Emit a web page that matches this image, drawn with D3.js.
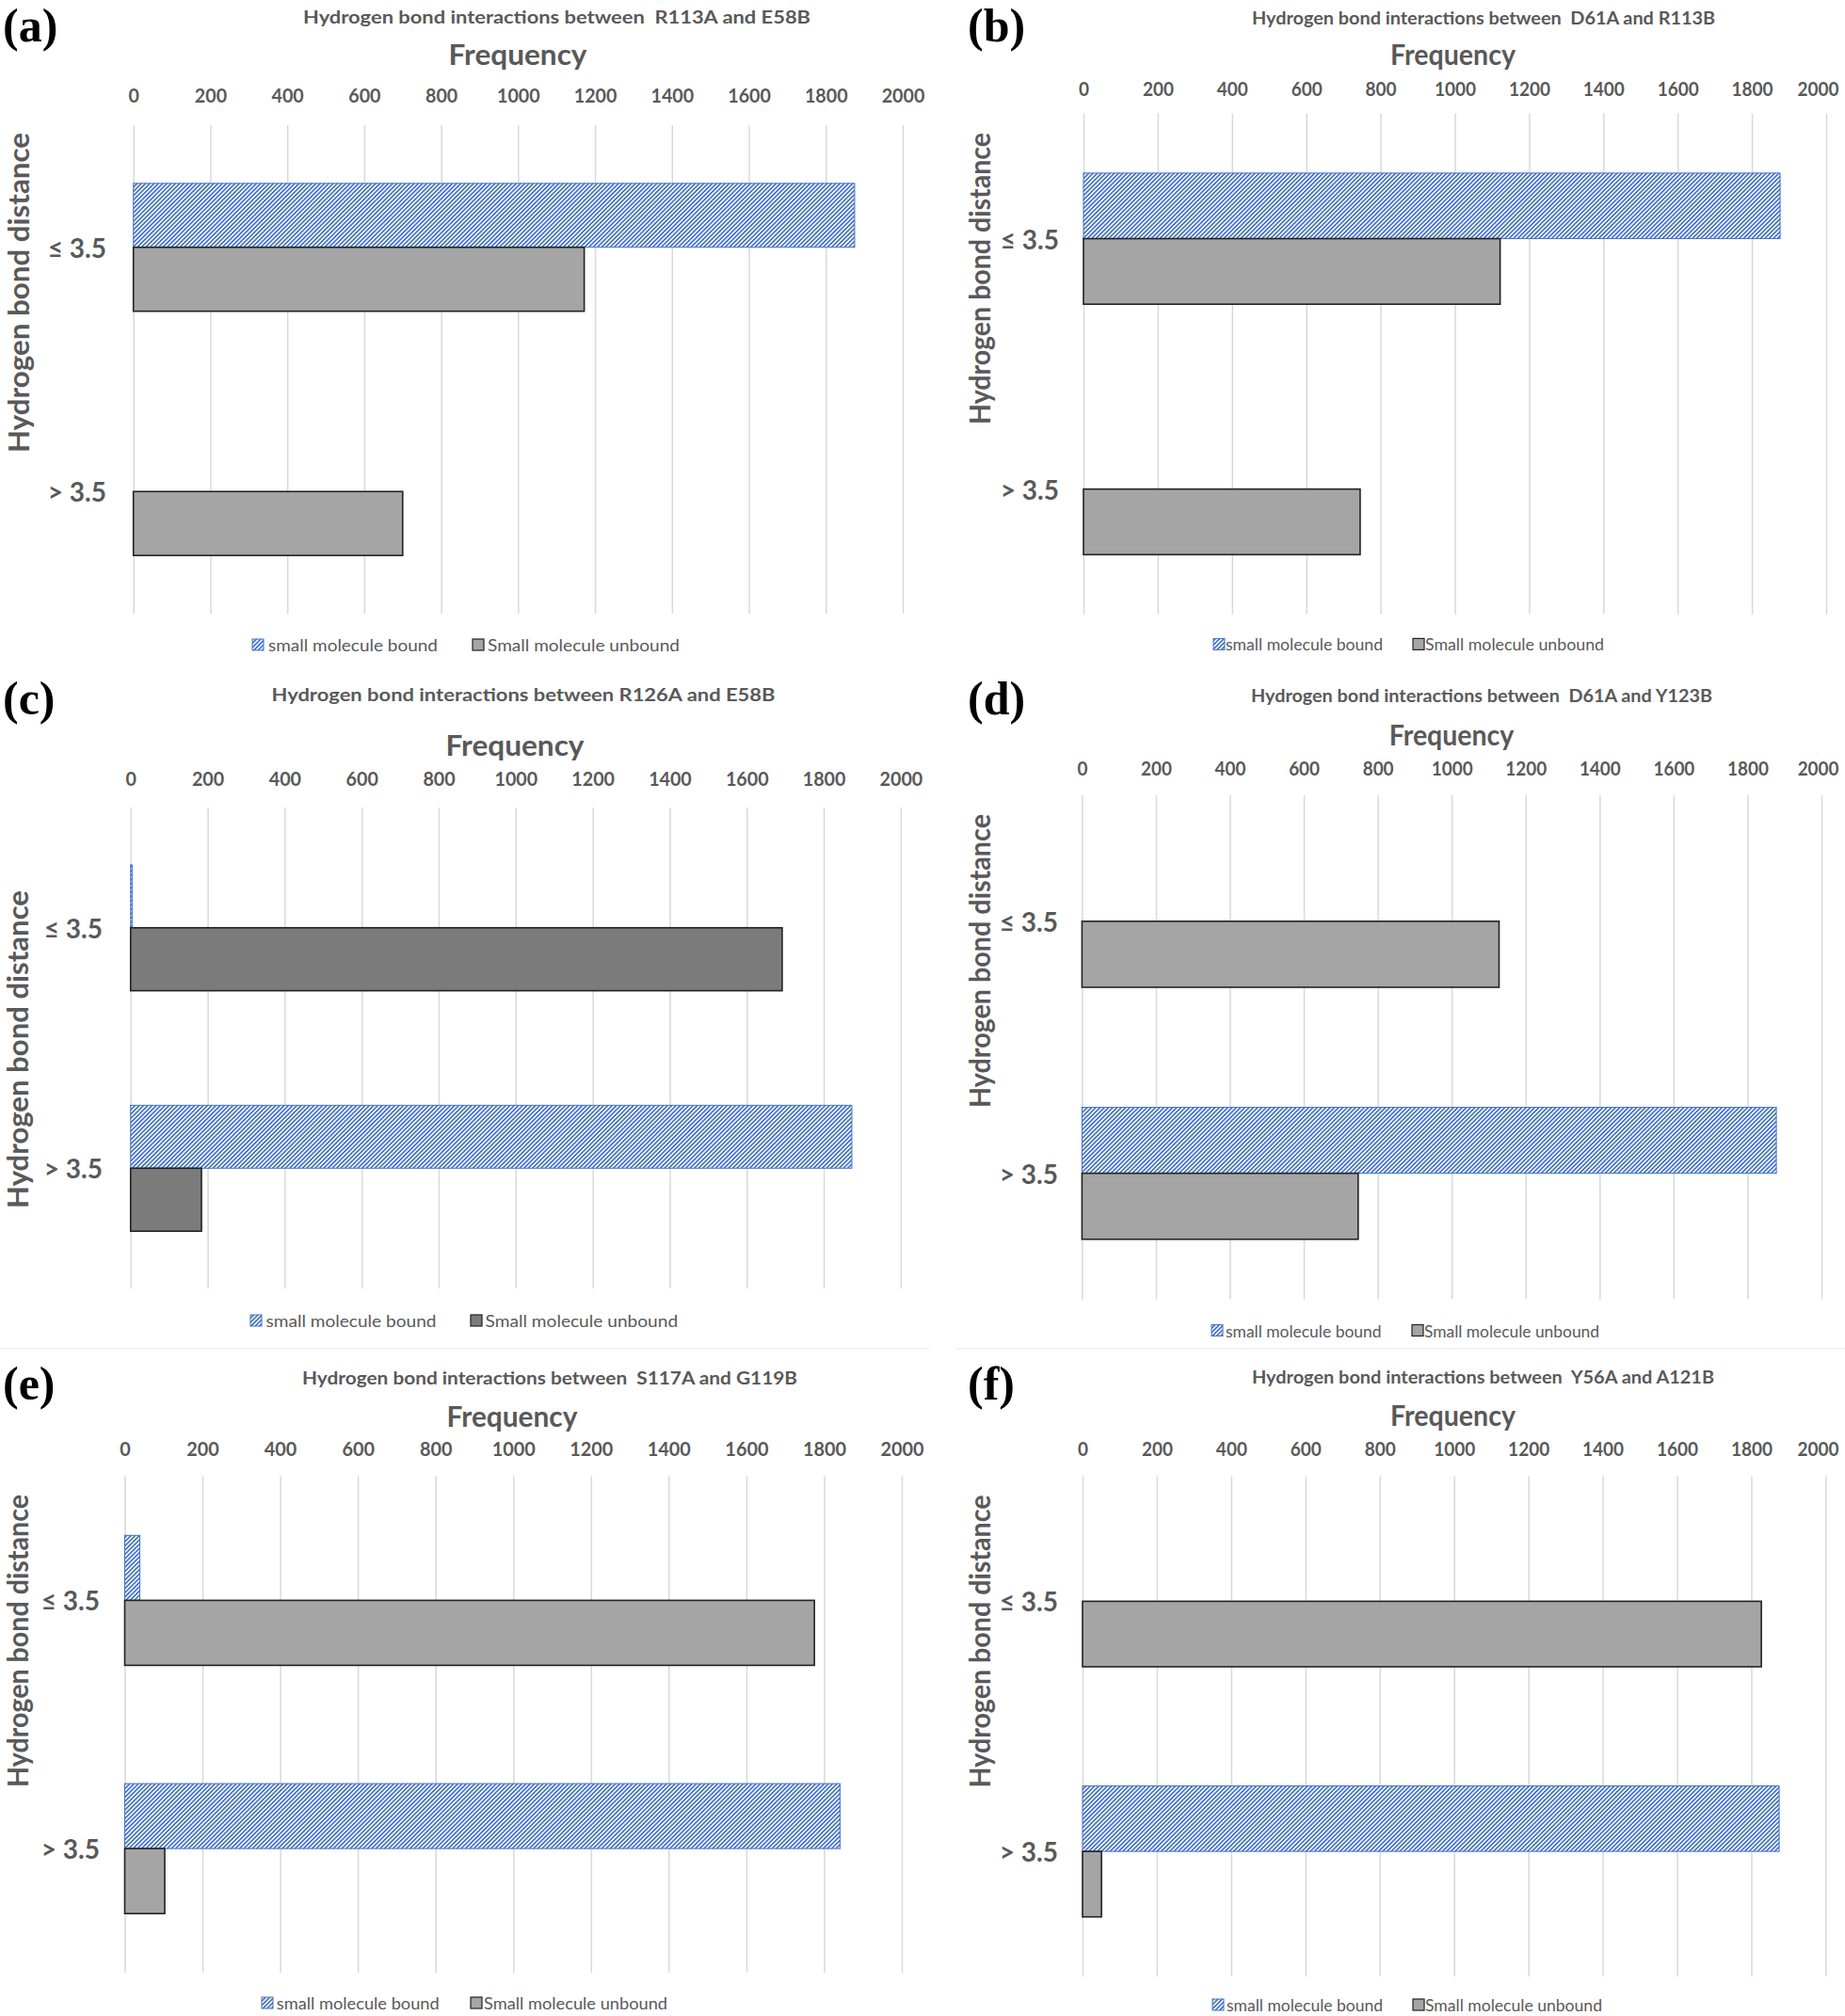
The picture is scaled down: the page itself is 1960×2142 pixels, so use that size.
<!DOCTYPE html>
<html><head><meta charset="utf-8">
<script src="https://cdn.jsdelivr.net/npm/d3@7"></script>
<style>body{margin:0;background:#fff} svg{display:block} text{white-space:pre}</style>
</head><body>
<svg id="chart" width="1960" height="2142"></svg>
<script>
// ---------------- data ----------------
const categories = ["≤ 3.5", "> 3.5"];
const seriesNames = ["small molecule bound", "Small molecule unbound"];
const panelLabels = ["(a)", "(b)", "(c)", "(d)", "(e)", "(f)"];
const panelTitles = [
  "Hydrogen bond interactions between  R113A and E58B",
  "Hydrogen bond interactions between  D61A and R113B",
  "Hydrogen bond interactions between R126A and E58B",
  "Hydrogen bond interactions between  D61A and Y123B",
  "Hydrogen bond interactions between  S117A and G119B",
  "Hydrogen bond interactions between  Y56A and A121B"
];
// values per panel, in category order [≤ 3.5, > 3.5]
const boundValues   = [[1875, 0], [1876, 0], [4, 1873], [0, 1878], [39, 1841], [0, 1875]];
const unboundValues = [[1172, 700], [1122, 745], [1692, 184], [1128, 747], [1775, 103], [1827, 51]];
const xTicks = [0, 200, 400, 600, 800, 1000, 1200, 1400, 1600, 1800, 2000];
const xAxisTitle = "Frequency";
const yAxisTitle = "Hydrogen bond distance";

// ---------------- layout (positions/styles only) ----------------
const layout = [
  {x0:141.7, x1:959, top:133, bottom:652, titleX:591.5, titleY:17, titleW:539, freqX:550, freqY:57, freqW:147, tickY:101.7,
   ytX:18.5, ytY:311, ytL:340, catRight:113, labelX:3, labelBase:44, legY:685, leg:[268,285,180,502,518,204], gray:"#a5a5a5"},
  {x0:1151, x1:1940, top:120.5, bottom:652.7, titleX:1576, titleY:18, titleW:492, freqX:1543.5, freqY:57, freqW:133, tickY:94,
   ytX:1040, ytY:296, ytL:310, catRight:1125, labelX:1028, labelBase:44, legY:684.4, leg:[1289,1302,167,1501,1514,190], gray:"#a5a5a5"},
  {x0:138.75, x1:956.9, top:858, bottom:1369, titleX:556, titleY:737, titleW:535, freqX:547, freqY:790.6, freqW:147, tickY:827,
   ytX:17.5, ytY:1115, ytL:338, catRight:109, labelX:3, labelBase:759, legY:1403, leg:[266,282.5,181,500,515.6,204.5], gray:"#7b7b7b"},
  {x0:1149.4, x1:1935, top:845, bottom:1380.5, titleX:1574, titleY:738.7, titleW:490, freqX:1542, freqY:780, freqW:132.5, tickY:816.6,
   ytX:1040, ytY:1021, ytL:312, catRight:1124, labelX:1028, labelBase:759, legY:1413.5, leg:[1287,1302,165.5,1500,1513,186], gray:"#a5a5a5"},
  {x0:132.5, x1:958, top:1568.5, bottom:2096, titleX:584, titleY:1463, titleW:526, freqX:544, freqY:1504, freqW:139, tickY:1539.4,
   ytX:17.5, ytY:1743.5, ytL:311, catRight:106, labelX:3, labelBase:1487, legY:2128, leg:[278,293.75,173,500,514,195], gray:"#a5a5a5"},
  {x0:1150, x1:1939.4, top:1568.5, bottom:2100, titleX:1575.5, titleY:1462, titleW:491, freqX:1543.5, freqY:1502.7, freqW:133, tickY:1539.4,
   ytX:1040, ytY:1744, ytL:311, catRight:1124, labelX:1028, labelBase:1487, legY:2130, leg:[1288,1303,166,1501,1514,188], gray:"#a5a5a5"}
];

const BLUE = "#4472C4", TXT = "#595959", GRID = "#d9d9d9";
const FONT = "Lato, 'Open Sans', sans-serif";
const svg = d3.select("#chart");

// hatch pattern
const defs = svg.append("defs");
const pat = defs.append("pattern").attr("id", "hatch").attr("patternUnits", "userSpaceOnUse")
  .attr("width", 3.2).attr("height", 3.2).attr("patternTransform", "rotate(45)");
pat.append("rect").attr("width", 3.2).attr("height", 3.2).attr("fill", "#fff");
pat.append("rect").attr("width", 1.7).attr("height", 3.2).attr("fill", BLUE);

// faint chart-area separators
svg.append("line").attr("x1", 0).attr("x2", 987).attr("y1", 1433).attr("y2", 1433).attr("stroke", "#eeeeee").attr("stroke-width", 1.5);
svg.append("line").attr("x1", 1015).attr("x2", 1960).attr("y1", 1433).attr("y2", 1433).attr("stroke", "#eeeeee").attr("stroke-width", 1.5);

layout.forEach((L, i) => {
  const g = svg.append("g");
  const x = d3.scaleLinear().domain([0, 2000]).range([L.x0, L.x1]);
  const y = d3.scaleBand().domain(categories).range([L.top, L.bottom]).paddingInner(0.4764).paddingOuter(0.2382);
  const ys = d3.scaleBand().domain(seriesNames).range([0, y.bandwidth()]);
  const sx = (L.x1 - L.x0) / 817;

  // gridlines + tick labels
  const ax = g.append("g").attr("transform", `translate(0,${L.top})`)
    .call(d3.axisTop(x).tickValues(xTicks).tickSize(-(L.bottom - L.top)).tickFormat(d3.format("d")));
  ax.select(".domain").remove();
  ax.selectAll(".tick line").attr("stroke", GRID).attr("stroke-width", 1.5);
  ax.selectAll(".tick text").attr("y", L.tickY - L.top).attr("dy", "0.36em")
    .attr("fill", TXT).attr("font-family", FONT).attr("font-weight", "bold").attr("font-size", 21)
    .attr("lengthAdjust", "spacingAndGlyphs")
    .attr("textLength", d => String(d).length * 11.4 * sx)
    .attr("x", d => {
      const half = String(d).length * 11.4 * sx / 2;
      const over = x(d) + half - 1953;
      return over > 0 ? -over : 0;
    });

  // bars
  const rows = categories.map((c, j) => ({cat: c, bound: boundValues[i][j], unbound: unboundValues[i][j]}));
  rows.forEach(r => {
    if (r.bound > 0) {
      g.append("rect").attr("x", x(0)).attr("y", y(r.cat) + ys(seriesNames[0]))
        .attr("width", x(r.bound) - x(0)).attr("height", ys.bandwidth())
        .attr("fill", "url(#hatch)").attr("stroke", BLUE).attr("stroke-width", 1);
    }
    if (r.unbound > 0) {
      g.append("rect").attr("x", x(0)).attr("y", y(r.cat) + ys(seriesNames[1]))
        .attr("width", x(r.unbound) - x(0)).attr("height", ys.bandwidth())
        .attr("fill", L.gray).attr("stroke", "#222").attr("stroke-width", 1.6);
    }
  });

  // category labels
  categories.forEach(c => {
    g.append("text").attr("x", L.catRight).attr("y", y(c) + y.bandwidth() / 2)
      .attr("text-anchor", "end").attr("dominant-baseline", "central")
      .attr("fill", TXT).attr("font-family", FONT).attr("font-weight", "bold").attr("font-size", 28).text(c);
  });

  // panel label
  g.append("text").attr("x", L.labelX).attr("y", L.labelBase)
    .attr("font-family", "'Liberation Serif', 'Times New Roman', serif").attr("font-weight", "bold")
    .attr("font-size", 50).attr("fill", "#000").text(panelLabels[i]);

  // title
  g.append("text").attr("x", L.titleX).attr("y", L.titleY).attr("text-anchor", "middle").attr("dominant-baseline", "central")
    .attr("fill", TXT).attr("font-family", FONT).attr("font-weight", "bold").attr("font-size", 19)
    .attr("textLength", L.titleW).attr("lengthAdjust", "spacingAndGlyphs").text(panelTitles[i]);

  // x axis title
  g.append("text").attr("x", L.freqX).attr("y", L.freqY).attr("text-anchor", "middle").attr("dominant-baseline", "central")
    .attr("fill", TXT).attr("font-family", FONT).attr("font-weight", "bold").attr("font-size", 31)
    .attr("textLength", L.freqW).attr("lengthAdjust", "spacingAndGlyphs").text(xAxisTitle);

  // y axis title
  g.append("text").attr("transform", `translate(${L.ytX},${L.ytY}) rotate(-90)`)
    .attr("text-anchor", "middle").attr("dominant-baseline", "central")
    .attr("fill", TXT).attr("font-family", FONT).attr("font-weight", "bold").attr("font-size", 30)
    .attr("textLength", L.ytL).attr("lengthAdjust", "spacingAndGlyphs").text(yAxisTitle);

  // legend
  const [s1, t1, w1, s2, t2, w2] = L.leg;
  g.append("rect").attr("x", s1).attr("y", L.legY - 6).attr("width", 12).attr("height", 12)
    .attr("fill", "url(#hatch)").attr("stroke", BLUE).attr("stroke-width", 1);
  g.append("text").attr("x", t1).attr("y", L.legY).attr("dominant-baseline", "central")
    .attr("fill", TXT).attr("font-family", FONT).attr("font-size", 18)
    .attr("textLength", w1).attr("lengthAdjust", "spacingAndGlyphs").text(seriesNames[0]);
  g.append("rect").attr("x", s2).attr("y", L.legY - 6).attr("width", 12).attr("height", 12)
    .attr("fill", L.gray).attr("stroke", "#222").attr("stroke-width", 1.2);
  g.append("text").attr("x", t2).attr("y", L.legY).attr("dominant-baseline", "central")
    .attr("fill", TXT).attr("font-family", FONT).attr("font-size", 18)
    .attr("textLength", w2).attr("lengthAdjust", "spacingAndGlyphs").text(seriesNames[1]);
});
</script>
</body></html>
